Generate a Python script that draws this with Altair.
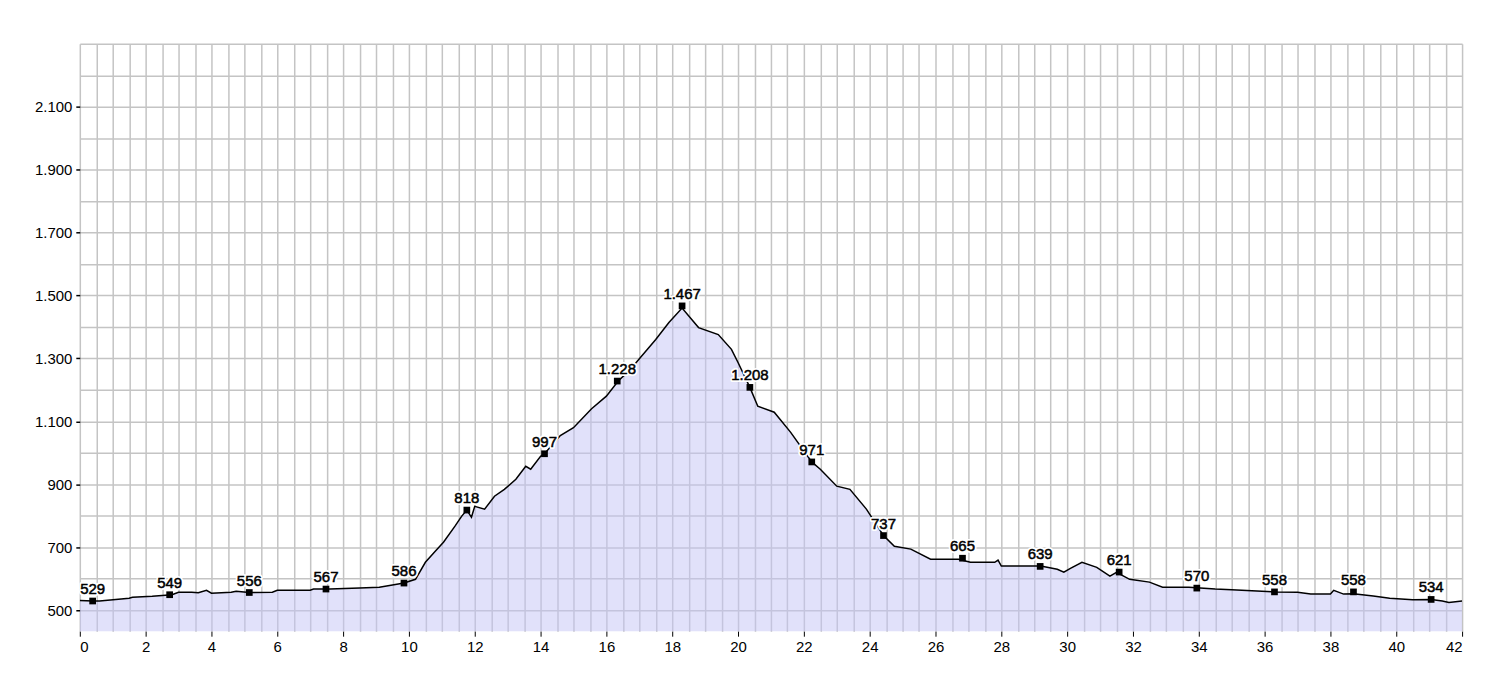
import altair as alt
import pandas as pd

# Elevation profile (km, m)
km = [0.0, 0.4, 0.6, 1.5, 1.6, 2.2, 2.8, 3.0, 3.4, 3.6, 3.85, 4.0, 4.6, 4.75, 5.15, 5.85, 6.0, 7.0, 7.1, 7.6,
      8.5, 9.1, 9.5, 9.85, 10.2, 10.5, 10.8, 11.05, 11.4, 11.6, 11.76, 11.9, 12.0, 12.3, 12.6, 12.9, 13.25,
      13.55, 13.7, 14.0, 14.12, 14.6, 15.0, 15.55, 16.0, 16.36, 16.7, 17.06, 17.5, 17.9, 18.3, 18.8, 19.4,
      19.8, 20.0, 20.36, 20.6, 21.1, 21.6, 22.24, 22.5, 23.0, 23.4, 23.9, 24.42, 24.75, 25.25, 25.85, 26.7,
      27.06, 27.8, 27.9, 28.0, 29.2, 29.7, 29.9, 30.1, 30.45, 30.9, 31.3, 31.5, 31.9, 32.5, 32.9, 33.7,
      34.5, 35.0, 36.3, 37.0, 37.4, 38.0, 38.1, 38.4, 38.7, 39.3, 39.8, 40.5, 41.06, 41.4, 41.6, 42.0]
elev = [531, 529, 529, 538, 541, 544, 549, 557, 557, 555, 563, 554, 557, 560, 556, 557, 563, 563, 567, 567,
        570, 573, 580, 586, 598, 652, 687, 716, 767, 798, 818, 795, 830, 821, 862, 884, 916,
        957, 948, 989, 997, 1055, 1080, 1140, 1180, 1228, 1262, 1306, 1360, 1414, 1460, 1398, 1376,
        1329, 1287, 1208, 1148, 1129, 1065, 971, 948, 894, 884, 821, 737, 703, 694, 662, 662,
        652, 652, 659, 640, 640, 630, 621, 633, 652, 636, 608, 620, 598, 589, 573, 573,
        567, 565, 558, 557, 551, 551, 563, 551, 552, 545, 538, 533, 534, 529, 524, 529]

# Waypoint labels
mark_km = [0.39, 2.73, 5.15, 7.48, 9.85, 11.76, 14.12, 16.33, 18.3, 20.36, 22.24, 24.42, 26.82, 29.18,
           31.58, 33.94, 36.3, 38.7, 41.06]
mark_elev = [529, 549, 556, 567, 586, 818, 997, 1228, 1467, 1208, 971, 737, 665, 639, 621, 570, 558, 558, 534]

x_grid = [i * 0.5 for i in range(85)]
x_ticks = list(range(0, 43, 2))
y_grid = list(range(500, 2301, 100))
y_ticks = list(range(500, 2101, 200))

prof = pd.DataFrame({"km": km, "elev": elev})
marks = pd.DataFrame({"km": mark_km, "elev": mark_elev})
marks["label"] = [f"{v:,}".replace(",", ".") for v in mark_elev]

FONT = "Liberation Sans"
xs = alt.Scale(domain=[0, 42], nice=False)
ys = alt.Scale(domain=[433, 2300], nice=False, zero=False)

# grid-only axes placed on top/right so they don't stack with the labelled ones
grid_x_axis = alt.Axis(values=x_grid, grid=True, labels=False, ticks=False, domain=False,
                       gridColor="#c4c4c4", gridWidth=1.5, orient="top", title=None)
grid_y_axis = alt.Axis(values=y_grid, grid=True, labels=False, ticks=False, domain=False,
                       gridColor="#c4c4c4", gridWidth=1.5, orient="right", title=None)

x_axis = alt.Axis(values=x_ticks, grid=False, domain=False, tickColor="black", tickSize=5, tickWidth=1,
                  labelFontSize=15, labelFont=FONT, labelColor="black", labelPadding=3,
                  labelOverlap=False, orient="bottom", title=None)
y_axis = alt.Axis(values=y_ticks, grid=False, domain=False, tickColor="black", tickSize=4, tickWidth=1.5,
                  labelFontSize=15, labelFont=FONT, labelColor="black", labelPadding=4,
                  labelExpr="replace(format(datum.value, ','), ',', '.')",
                  labelOverlap=False, orient="left", title=None)

# semi-transparent fill so the grid shows through, as in the reference
area = alt.Chart(prof).mark_area(color="#c4c4f5", opacity=0.5, clip=True).encode(
    x=alt.X("km:Q", scale=xs, axis=grid_x_axis),
    y=alt.Y("elev:Q", scale=ys, axis=grid_y_axis),
)

line = alt.Chart(prof).mark_line(color="black", strokeWidth=1.5, clip=True).encode(
    x=alt.X("km:Q", scale=xs, axis=x_axis),
    y=alt.Y("elev:Q", scale=ys, axis=y_axis),
)

enc = dict(x=alt.X("km:Q", scale=xs, axis=None), y=alt.Y("elev:Q", scale=ys, axis=None))

pts = alt.Chart(marks).mark_square(color="black", size=45, opacity=1).encode(**enc)
halo = alt.Chart(marks).mark_text(font=FONT, fontSize=15, baseline="bottom", dy=-4, color="white",
                                  stroke="white", strokeWidth=4, strokeJoin="round").encode(text="label:N", **enc)
txt = alt.Chart(marks).mark_text(font=FONT, fontSize=15, baseline="bottom", dy=-4, color="black",
                                 stroke="black", strokeWidth=0.5).encode(text="label:N", **enc)

chart = alt.layer(area, line, pts, halo, txt).resolve_axis(
    x="independent", y="independent"
).properties(
    width=1386, height=589,
    autosize=alt.AutoSizeParams(type="none"),
    padding={"left": 72, "top": 35, "right": 30, "bottom": 40},
    background="white",
).configure_view(stroke=None)

chart.save("out.html", embed_options={"renderer": "svg", "actions": False})
